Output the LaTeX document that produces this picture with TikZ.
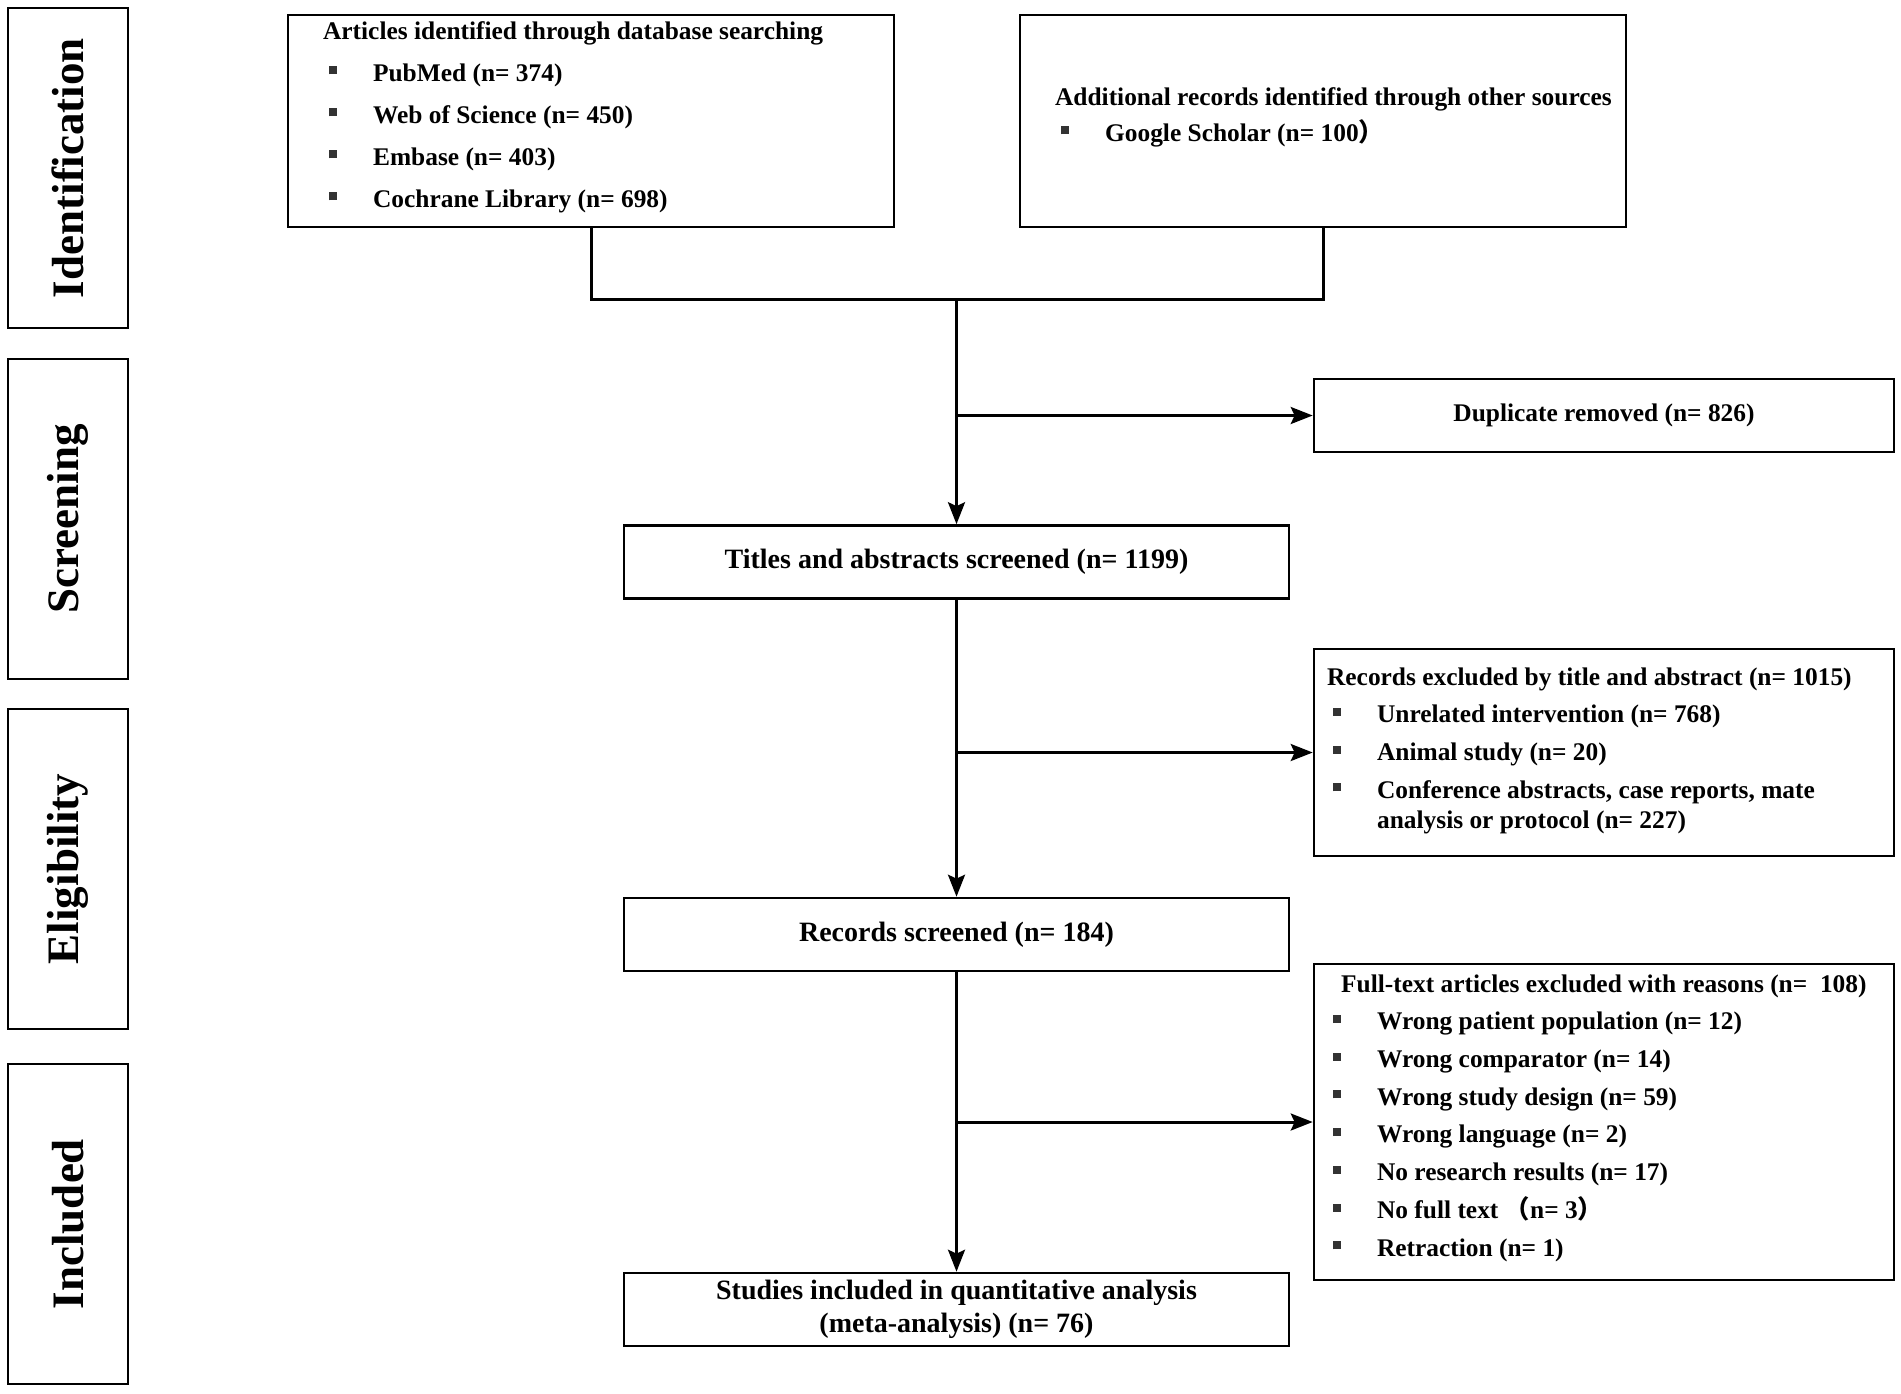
\documentclass[tikz,border=0pt]{standalone}
\usepackage{fontspec}
\setmainfont{Liberation Serif}
\newfontfamily\cjk{Noto Sans CJK SC}
\usetikzlibrary{arrows.meta}

\definecolor{sqgray}{HTML}{333333}
\newcommand{\sqb}[1][3pt]{\hspace*{#1}\makebox[22pt][l]{\textcolor{sqgray}{\rule[3.4pt]{4pt}{4pt}}}}

\tikzset{
  stage/.style={draw, line width=1.3pt, rotate=90, minimum width=160pt, minimum height=60pt,
    inner sep=0pt, font=\fontsize{22.5}{27}\selectfont\bfseries},
  box/.style={draw, line width=1.3pt, inner sep=0pt},
  midbox/.style={box, minimum width=332.5pt, minimum height=36.5pt, align=center,
    font=\fontsize{14}{16.4}\selectfont\bfseries},
  topbox/.style={box, minimum width=303pt, minimum height=106pt},
  sidebox/.style={box, minimum width=290pt, font=\fontsize{12.7}{15}\selectfont\bfseries},
  listtxt/.style={anchor=west, inner sep=0pt, align=left,
    font=\fontsize{12.7}{18.85}\selectfont\bfseries},
  conn/.style={line width=1.5pt},
  arr/.style={conn, -{Stealth[length=11pt,width=8.5pt,inset=2pt]}},
}

\begin{document}
\begin{tikzpicture}[x=0.5pt, y=-0.5pt]
  \useasboundingbox (0,0) rectangle (1901,1393);

  % stages on the left
  \node[stage] (ident) at (68,168) {Identification};
  \node[stage] (screen) at (68,519) {Screening};
  \node[stage] (elig) at (68,869) {Eligibility};
  \node[stage] (incl) at (68,1224) {Included};

  % sources
  \node[topbox] (art) at (591,121) {};
  \node[listtxt, font=\fontsize{12.7}{21}\selectfont\bfseries] (arttxt) at ([xshift=18pt,yshift=2pt]art.west)
    {Articles identified through database searching\\
     \sqb PubMed (n= 374)\\
     \sqb Web of Science (n= 450)\\
     \sqb Embase (n= 403)\\
     \sqb Cochrane Library (n= 698)};
  \node[topbox] (add) at (1323,121) {};
  \node[listtxt, font=\fontsize{12.7}{18}\selectfont\bfseries] (addtxt) at ([xshift=18pt,yshift=2pt]add.west)
    {Additional records identified through other sources\\
     \sqb Google Scholar (n= 100{\cjk ）}};

  % main column
  \node[midbox] (tit) at (956.5,562) {Titles and abstracts screened (n= 1199)};
  \node[midbox] (rec) at (956.5,934.5) {Records screened (n= 184)};
  \node[midbox] (stu) at (956.5,1309.5) {Studies included in quantitative analysis\\(meta-analysis) (n= 76)};

  % exclusions
  \node[sidebox, minimum height=36.5pt] (dup) at (1604,415.5) {Duplicate removed (n= 826)};
  \node[sidebox, minimum height=103.5pt] (exc1) at (1604,752.5) {};
  \node[listtxt] (exc1txt) at ([xshift=7pt,yshift=1pt]exc1.west)
    {Records excluded by title and abstract (n= 1015)\\
     \sqb Unrelated intervention (n= 768)\\
     \sqb Animal study (n= 20)\\
     \sqb Conference abstracts, case reports, mate\\[-3.85pt]
     \hspace*{25pt}analysis or protocol (n= 227)};
  \node[sidebox, minimum height=158pt] (exc2) at (1604,1122) {};
  \node[listtxt] (exc2txt) at ([xshift=14pt,yshift=2pt]exc2.west)
    {Full-text articles excluded with reasons (n=\ \ 108)\\
     \sqb[-4pt]Wrong patient population (n= 12)\\
     \sqb[-4pt]Wrong comparator (n= 14)\\
     \sqb[-4pt]Wrong study design (n= 59)\\
     \sqb[-4pt]Wrong language (n= 2)\\
     \sqb[-4pt]No research results (n= 17)\\
     \sqb[-4pt]No full text {\cjk （}n= 3{\cjk ）}\\
     \sqb[-4pt]Retraction (n= 1)};

  % connectors
  \coordinate (join) at (tit.north |- 0,299);
  \draw[conn] (art.south) |- (join) -| (add.south);
  \draw[arr] (join) -- (tit.north);
  \draw[arr] (tit.north |- dup.west) -- (dup.west);
  \draw[arr] (tit.south) -- (rec.north);
  \draw[arr] (tit.south |- exc1.west) -- (exc1.west);
  \draw[arr] (rec.south) -- (stu.north);
  \draw[arr] (rec.south |- exc2.west) -- (exc2.west);
\end{tikzpicture}
\end{document}
